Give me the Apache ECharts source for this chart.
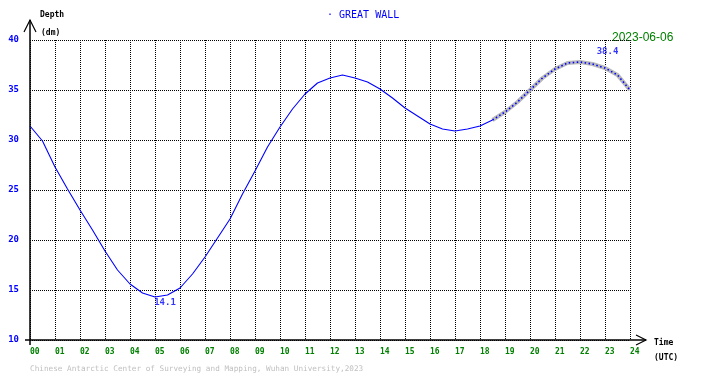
<!DOCTYPE html>
<html>
<head>
<meta charset="utf-8">
<script src="https://cdn.jsdelivr.net/npm/echarts@6/dist/echarts.min.js"></script>
<style>html,body{margin:0;padding:0;background:#fff}#c{width:710px;height:378px}</style>
</head>
<body>
<div id="c"></div>
<script>
// Hours (UTC), every 30 minutes
const hours = [0,0.5,1,1.5,2,2.5,3,3.5,4,4.5,5,5.5,6,6.5,7,7.5,8,8.5,9,9.5,10,10.5,11,11.5,12,12.5,13,13.5,14,14.5,15,15.5,16,16.5,17,17.5,18,18.5,19,19.5,20,20.5,21,21.5,22,22.5,23,23.5,24];
// Water depth (dm)
const depth = [31.4,29.9,27.3,25.1,23.0,21.0,18.9,17.0,15.6,14.7,14.3,14.5,15.2,16.6,18.3,20.2,22.1,24.6,26.9,29.3,31.3,33.1,34.6,35.7,36.2,36.5,36.2,35.8,35.1,34.2,33.2,32.4,31.6,31.1,30.9,31.1,31.4,32.0,32.8,33.8,35.0,36.2,37.1,37.7,37.8,37.6,37.2,36.5,35.0];
const noisyFrom = 18.5;
const xTicks = ['00','01','02','03','04','05','06','07','08','09','10','11','12','13','14','15','16','17','18','19','20','21','22','23','24'];
const yTicks = [10,15,20,25,30,35,40];
const minLabel = {hour: 5.4, value: 13.75, text: '14.1'};
const maxLabel = {hour: 23.1, value: 38.8, text: '38.4'};

const allData = hours.map((h,i)=>[h,depth[i]]);
const cleanData = allData.filter(d=>d[0]<=noisyFrom);
const noisyData = allData.filter(d=>d[0]>=noisyFrom);
const mono = 'DejaVu Sans Mono';
const chart = echarts.init(document.getElementById('c'));
chart.setOption({
  animation:false,
  backgroundColor:'#fff',
  grid:{left:30,right:80,top:40,bottom:38},
  xAxis:{type:'value',min:0,max:24,interval:1,
    axisLine:{show:false},axisTick:{show:false},
    axisLabel:{color:'#008000',fontFamily:mono,fontSize:8,fontWeight:'bold',align:'left',margin:8,
      formatter:v=>xTicks[Math.round(v)],showMaxLabel:true,showMinLabel:true},
    splitLine:{show:true,lineStyle:{color:'#000',type:[1,1],width:1}}},
  yAxis:{type:'value',min:yTicks[0],max:yTicks[yTicks.length-1],interval:5,
    axisLine:{show:false},axisTick:{show:false},
    axisLabel:{color:'#0000ff',fontFamily:mono,fontSize:9,fontWeight:'bold',margin:11,padding:[0,0,6,0]},
    splitLine:{show:true,lineStyle:{color:'#000',type:[1,1],width:1}}},
  series:[
    {type:'line',data:cleanData,symbol:'none',lineStyle:{color:'#0000ff',width:1.1},z:3},
    {type:'line',data:noisyData,symbol:'none',lineStyle:{color:'#b8b8b8',width:4},z:2},
    {type:'line',data:noisyData,symbol:'none',lineStyle:{color:'#0000ff',width:1.6,type:[1.5,2.5]},z:3},
    {type:'scatter',symbolSize:0,z:4,
      data:[[minLabel.hour,minLabel.value,minLabel.text],[maxLabel.hour,maxLabel.value,maxLabel.text]],
      label:{show:true,position:'inside',formatter:p=>p.data[2],color:'#0000ff',fontFamily:mono,fontSize:9,fontWeight:'bold'}}
  ],
  graphic:[
    {type:'polyline',shape:{points:[[30,345],[30,20]]},style:{stroke:'#000',lineWidth:1.5},z:10},
    {type:'polyline',shape:{points:[[24,32],[30,20],[36,32]]},style:{stroke:'#000',lineWidth:1.2,fill:null},z:10},
    {type:'polyline',shape:{points:[[25,340],[646,340]]},style:{stroke:'#000',lineWidth:1.5},z:10},
    {type:'polyline',shape:{points:[[636,335],[646,340],[636,345]]},style:{stroke:'#000',lineWidth:1.2,fill:null},z:10},
    {type:'text',left:40,top:11,style:{text:'Depth',font:'bold 8px "DejaVu Sans Mono"',fill:'#000'}},
    {type:'text',left:41,top:29,style:{text:'(dm)',font:'bold 8px "DejaVu Sans Mono"',fill:'#000'}},
    {type:'text',left:654,top:339,style:{text:'Time',font:'bold 8px "DejaVu Sans Mono"',fill:'#000'}},
    {type:'text',left:654,top:354,style:{text:'(UTC)',font:'bold 8px "DejaVu Sans Mono"',fill:'#000'}},
    {type:'text',left:327,top:10,style:{text:'· GREAT WALL',font:'10px "DejaVu Sans Mono"',fill:'#0000ff'}},
    {type:'text',left:612,top:32,style:{text:'2023-06-06',font:'12px "Liberation Sans"',fill:'#008000'}},
    {type:'text',left:30,top:365,style:{text:'Chinese Antarctic Center of Surveying and Mapping, Wuhan University,2023',font:'7.7px "DejaVu Sans Mono"',fill:'#c0c0c0'}}
  ]
});
</script>
</body>
</html>
